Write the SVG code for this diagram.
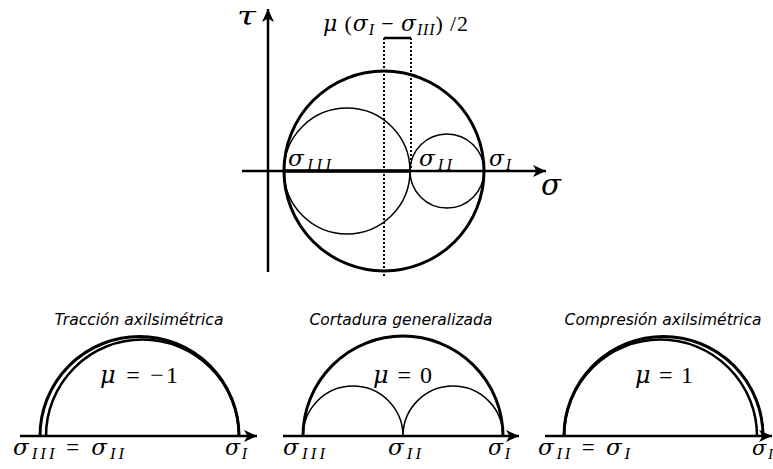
<svg xmlns="http://www.w3.org/2000/svg" width="773" height="469" viewBox="0 0 773 469">
<style>
  .ax{stroke:#000;stroke-width:2.5;fill:none}
  .thick{stroke:#000;stroke-width:3;fill:none}
  .thin{stroke:#000;stroke-width:1.5;fill:none}
  .dot{stroke:#000;stroke-width:2;stroke-dasharray:2,2;fill:none}
  .m{font-family:"Liberation Serif","DejaVu Serif",serif;fill:#000}
  .i{font-style:italic;font-family:"DejaVu Serif","Liberation Serif",serif;font-weight:normal}
  .s{font-style:italic;font-size:0.72em}
  .t{font-family:"DejaVu Sans",sans-serif;font-style:italic;font-size:15.5px;fill:#000}
</style>
<defs>
  <marker id="arr" markerUnits="userSpaceOnUse" markerWidth="16" markerHeight="14" viewBox="-14 -7 16 14" refX="0" refY="0" orient="auto">
    <path d="M0,0 L-13,-6 L-9.5,0 L-13,6 Z" fill="#000"/>
  </marker>
</defs>

<g id="connectors">
  <line class="ax" x1="268" y1="272" x2="268" y2="9" marker-end="url(#arr)"/>
  <line class="ax" x1="242" y1="171" x2="546" y2="171" marker-end="url(#arr)"/>
  <line stroke="#000" stroke-width="3.5" x1="284" y1="171" x2="410" y2="171"/>
  <line class="ax" x1="20" y1="436" x2="257" y2="436" marker-end="url(#arr)"/>
  <line class="ax" x1="283" y1="436" x2="519" y2="436" marker-end="url(#arr)"/>
  <line class="ax" x1="545" y1="436" x2="772" y2="436" marker-end="url(#arr)"/>
</g>

<g id="mohr-main">
  <circle class="thick" cx="384" cy="171" r="100"/>
  <circle class="thin" cx="347" cy="171" r="63"/>
  <circle class="thin" cx="447" cy="171" r="37"/>
  <line class="dot" x1="384" y1="38" x2="384" y2="277"/>
  <line class="dot" x1="411" y1="38" x2="411" y2="171"/>
  <line stroke="#000" stroke-width="2.5" x1="384" y1="38" x2="411" y2="38"/>
  <text class="m i" x="237" y="25" font-size="26" textLength="19" lengthAdjust="spacingAndGlyphs">τ</text>
  <text class="m i" x="541" y="195" font-size="29" textLength="20" lengthAdjust="spacingAndGlyphs">σ</text>
  <text class="m" x="323" y="31" font-size="22" textLength="145" lengthAdjust="spacing"><tspan class="i">μ</tspan> (<tspan class="i">σ</tspan><tspan class="s" dy="4">I</tspan><tspan dy="-4"> − </tspan><tspan class="i">σ</tspan><tspan class="s" dy="4">III</tspan><tspan dy="-4">) /2</tspan></text>
  <text class="m" x="288" y="166" font-size="23" textLength="43" lengthAdjust="spacing"><tspan class="i">σ</tspan><tspan class="s" dy="4">III</tspan></text>
  <text class="m" x="419" y="166" font-size="23" textLength="33" lengthAdjust="spacing"><tspan class="i">σ</tspan><tspan class="s" dy="4">II</tspan></text>
  <text class="m" x="489" y="166" font-size="22" textLength="22" lengthAdjust="spacing"><tspan class="i">σ</tspan><tspan class="s" dy="4">I</tspan></text>
</g>

<g id="traccion">
  <text class="t" x="139" y="325" text-anchor="middle">Tracción axilsimétrica</text>
  <path class="thick" d="M40,436 A99.5,99.5 0 0 1 239,436"/>
  <path class="ax" stroke-width="2" d="M46,436 A96.5,96.5 0 0 1 239,436"/>
  <text class="m" x="100" y="383" font-size="24" textLength="78" lengthAdjust="spacing"><tspan class="i">μ</tspan> = −1</text>
  <text class="m" x="13" y="455" font-size="23" textLength="111" lengthAdjust="spacing"><tspan class="i">σ</tspan><tspan class="s" dy="4">III</tspan><tspan dy="-4"> = </tspan><tspan class="i">σ</tspan><tspan class="s" dy="4">II</tspan></text>
  <text class="m" x="225" y="455" font-size="22" textLength="22" lengthAdjust="spacing"><tspan class="i">σ</tspan><tspan class="s" dy="4">I</tspan></text>
</g>

<g id="cortadura">
  <text class="t" x="401" y="325" text-anchor="middle">Cortadura generalizada</text>
  <path class="thick" d="M303,436 A100,100 0 0 1 503,436"/>
  <path class="thin" d="M303,436 A50,50 0 0 1 403,436 A50,50 0 0 1 503,436"/>
  <text class="m" x="373" y="383" font-size="24" textLength="59" lengthAdjust="spacing"><tspan class="i">μ</tspan> = 0</text>
  <text class="m" x="283" y="455" font-size="23" textLength="42" lengthAdjust="spacing"><tspan class="i">σ</tspan><tspan class="s" dy="4">III</tspan></text>
  <text class="m" x="388" y="455" font-size="23" textLength="33" lengthAdjust="spacing"><tspan class="i">σ</tspan><tspan class="s" dy="4">II</tspan></text>
  <text class="m" x="488" y="455" font-size="22" textLength="22" lengthAdjust="spacing"><tspan class="i">σ</tspan><tspan class="s" dy="4">I</tspan></text>
</g>

<g id="compresion">
  <text class="t" x="663" y="325" text-anchor="middle">Compresión axilsimétrica</text>
  <path class="thick" d="M564,436 A99.5,99.5 0 0 1 763,436"/>
  <path class="ax" stroke-width="2" d="M564,436 A96.5,96.5 0 0 1 757,436"/>
  <text class="m" x="635" y="383" font-size="24" textLength="58" lengthAdjust="spacing"><tspan class="i">μ</tspan> = 1</text>
  <text class="m" x="538" y="455" font-size="23" textLength="92" lengthAdjust="spacing"><tspan class="i">σ</tspan><tspan class="s" dy="4">II</tspan><tspan dy="-4"> = </tspan><tspan class="i">σ</tspan><tspan class="s" dy="4">I</tspan></text>
  <text class="m" x="752" y="455" font-size="21" textLength="21" lengthAdjust="spacing"><tspan class="i">σ</tspan><tspan class="s" dy="4">I</tspan></text>
</g>
</svg>
